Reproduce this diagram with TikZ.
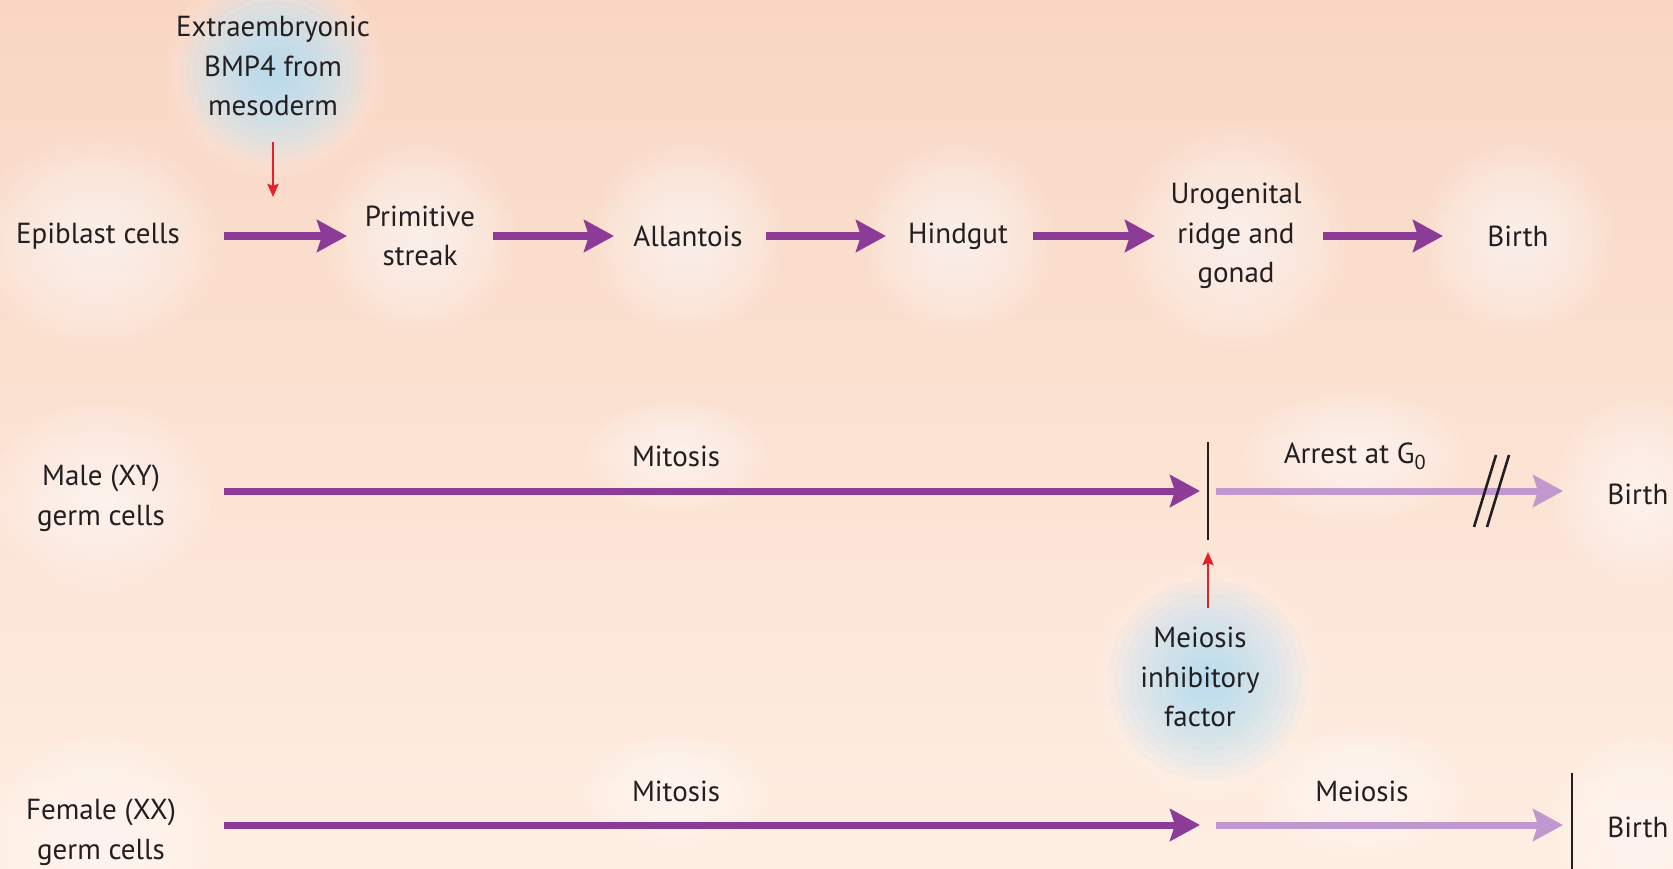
\documentclass[tikz,border=0pt]{standalone}
\usepackage{fontspec}
\setmainfont{PT Sans}
\usetikzlibrary{arrows.meta}

\definecolor{bgtop}{HTML}{F9D6C3}
\definecolor{bgbot}{HTML}{FEEEE2}
\definecolor{darkpurple}{RGB}{140,60,150}
\definecolor{lightpurple}{RGB}{192,152,206}
\definecolor{signalred}{RGB}{232,30,40}
\definecolor{inkblack}{RGB}{35,31,32}
\definecolor{haloblue}{RGB}{160,214,246}

% soft halo: stacked translucent ellipses that build up towards the centre
\newcommand{\softhalo}[5]{%
  \foreach \k in {1,...,14}{%
    \fill[#5, opacity=0.075] (#1,#2) ellipse ({#3*\k/14} and {#4*\k/14});
  }%
}

\tikzset{
  lbl/.style={inner sep=0pt, outer sep=0pt, text=inkblack, align=center,
              font=\fontsize{29}{39.5}\selectfont},
  mainarrow/.style={draw=darkpurple, line width=7pt,
              -{Stealth[length=30pt,width=32pt,inset=5pt]}},
  lightarrow/.style={draw=lightpurple, line width=7pt,
              -{Stealth[length=30pt,width=32pt,inset=5pt]}},
  redarrow/.style={draw=signalred, line width=2.6pt,
              -{Stealth[length=13pt,width=11pt,inset=2pt]}},
  barline/.style={draw=inkblack, line width=2.6pt},
}

\begin{document}
\begin{tikzpicture}[x=1pt,y=-1pt]
  \useasboundingbox (0,0) rectangle (1673,869);
  \shade[top color=bgtop, bottom color=bgbot] (0,0) rectangle (1673,869);

  % halos behind the labels
  \softhalo{98}{240}{120}{105}{white}
  \softhalo{420}{236}{95}{95}{white}
  \softhalo{688}{236}{95}{95}{white}
  \softhalo{958}{236}{95}{95}{white}
  \softhalo{1236}{236}{110}{110}{white}
  \softhalo{1518}{236}{95}{95}{white}
  \softhalo{275}{72}{110}{105}{white}
  \softhalo{275}{72}{95}{90}{haloblue}
  \softhalo{101}{498}{110}{95}{white}
  \softhalo{101}{832}{110}{95}{white}
  \softhalo{676}{456}{90}{55}{white}
  \softhalo{1355}{456}{110}{65}{white}
  \softhalo{1640}{494}{85}{95}{white}
  \softhalo{1208}{680}{115}{115}{white}
  \softhalo{1208}{680}{100}{100}{haloblue}
  \softhalo{676}{791}{90}{55}{white}
  \softhalo{1362}{791}{100}{65}{white}
  \softhalo{1640}{827}{85}{90}{white}

  % top row: migration of the germ cells
  \node[lbl] (epi)    at (98,236)   {Epiblast cells};
  \node[lbl] (ps)     at (420,236)  {Primitive\\streak};
  \node[lbl] (allan)  at (688,236)  {Allantois};
  \node[lbl] (hind)   at (958,236)  {Hindgut};
  \node[lbl] (uro)    at (1236,236) {Urogenital\\ridge and\\gonad};
  \node[lbl] (birtha) at (1518,236) {Birth};
  \node[lbl] (bmp)    at (273,66)   {Extraembryonic\\BMP4 from\\mesoderm};
  \coordinate (bmptip) at (273,197);

  \draw[mainarrow, shorten <=126pt, shorten >=73pt] (epi.center) -- (ps.center);
  \draw[mainarrow, shorten <=73pt,  shorten >=74pt] (ps.center) -- (allan.center);
  \draw[mainarrow, shorten <=78pt,  shorten >=72pt] (allan.center) -- (hind.center);
  \draw[mainarrow, shorten <=75pt,  shorten >=81pt] (hind.center) -- (uro.center);
  \draw[mainarrow, shorten <=87pt,  shorten >=75pt] (uro.center) -- (birtha.center);
  \draw[redarrow, shorten <=76pt] (bmp.center) -- (bmptip);

  % middle row: male germ cells
  \node[lbl] (male)    at (101,498)  {Male (XY)\\germ cells};
  \node[lbl] (mmit)    at (676,456)  {Mitosis};
  \node[lbl] (arrest)  at (1355,456) {Arrest at G\textsubscript{0}};
  \node[lbl] (birthb)  at (1638,494) {Birth};
  \node[lbl] (mif)     at (1200,677) {Meiosis\\inhibitory\\factor};
  \coordinate (mbar) at (1208,491);

  \draw[mainarrow, shorten <=123pt, shorten >=8pt] (male.center |- mbar) -- (mbar);
  \draw[lightarrow, shorten <=8pt, shorten >=75pt] (mbar) -- (birthb.center |- mbar);
  \draw[barline] ([yshift=-49pt]mbar) -- ([yshift=49pt]mbar);
  \draw[redarrow, shorten <=69pt, shorten >=61pt] (mbar |- mif.center) -- (mbar);
  \draw[barline] (1474,527) -- (1496,455);
  \draw[barline] (1487,527) -- (1509,455);

  % bottom row: female germ cells
  \node[lbl] (female)  at (101,832)  {Female (XX)\\germ cells};
  \node[lbl] (fmit)    at (676,791)  {Mitosis};
  \node[lbl] (fmei)    at (1362,791) {Meiosis};
  \node[lbl] (birthc)  at (1638,827) {Birth};
  \coordinate (fmid) at (1208,825);
  \coordinate (fbar) at (1572,825);

  \draw[mainarrow, shorten <=123pt, shorten >=8pt] (female.center |- fmid) -- (fmid);
  \draw[lightarrow, shorten <=8pt, shorten >=9pt] (fmid) -- (fbar);
  \draw[barline] ([yshift=52pt]fbar) -- ([yshift=-52pt]fbar);
\end{tikzpicture}
\end{document}
